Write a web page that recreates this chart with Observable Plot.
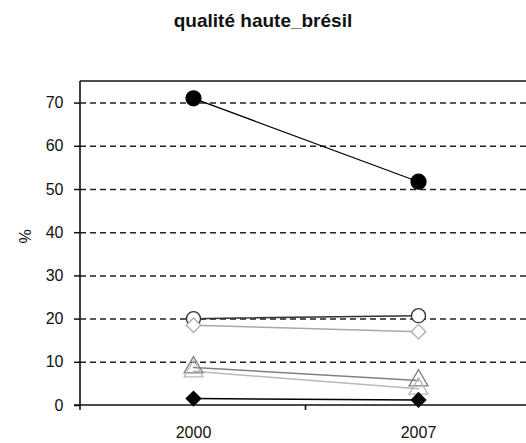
<!DOCTYPE html>
<html><head><meta charset="utf-8">
<script src="https://cdn.jsdelivr.net/npm/d3@7"></script>
<script src="https://cdn.jsdelivr.net/npm/@observablehq/plot@0.6"></script>
<style>
html,body{margin:0;background:#fff;font-family:"Liberation Sans",Arial,sans-serif;overflow:hidden}
#title{width:526px;height:44px;box-sizing:border-box;padding-top:11px;line-height:19px;font-size:19px;font-weight:bold;text-align:center;color:#111}
#chart svg{display:block}
</style>
</head><body>
<div id="title">qualité haute_brésil</div>
<div id="chart"></div>
<script>
// ---- data ----
const years = ["2000", "2007"];
const seriesNames = ["s1", "s2", "s3", "s4", "s5", "s6"];
const s1 = [71.1, 51.8];   // filled circle
const s2 = [20.1, 20.8];   // open circle
const s3 = [18.6, 17.1];   // open diamond
const s4 = [8.8, 5.8];     // open triangle (dark)
const s5 = [7.9, 3.9];     // open triangle (light)
const s6 = [1.6, 1.3];     // filled diamond
const yTicks = [0, 10, 20, 30, 40, 50, 60, 70];
const yMax = 75;

const seriesValues = [s1, s2, s3, s4, s5, s6];
const rows = seriesNames.flatMap((name, i) => years.map((yr, j) => ({series: name, year: yr, value: seriesValues[i][j]})));

// ---- styles ----
const styles = {
  s1: {symbol: "circle", fill: "#000", stroke: "#000", line: "#000", r: 7.5, lw: 1.2},
  s2: {symbol: "circle", fill: "#fff", stroke: "#333", line: "#333", r: 7, lw: 1.5},
  s3: {symbol: "diamond2", fill: "#fff", stroke: "#a8a8a8", line: "#a8a8a8", r: 6.5, lw: 1.5},
  s4: {symbol: "triangle", fill: "none", stroke: "#808080", line: "#808080", r: 7, lw: 1.5},
  s5: {symbol: "triangle", fill: "none", stroke: "#b8b8b8", line: "#b8b8b8", r: 7, lw: 1.5},
  s6: {symbol: "diamond2", fill: "#000", stroke: "#000", line: "#000", r: 6.5, lw: 1.5}
};

const axisLines = (index, scales, values, dims) => {
  const {x, y} = scales;
  const g = d3.create("svg:g").attr("fill", "none").attr("stroke", "#111").attr("stroke-width", 1.6);
  const x0 = dims.marginLeft;
  const y0 = y(0), yTop = y(yMax);
  g.append("line").attr("x1", x0).attr("x2", dims.width).attr("y1", yTop).attr("y2", yTop);
  g.append("line").attr("x1", x0).attr("x2", x0).attr("y1", yTop).attr("y2", y0 + 5);
  g.append("line").attr("x1", x0 - 6).attr("x2", dims.width).attr("y1", y0).attr("y2", y0);
  const mid = (x(years[0]) + x(years[1])) / 2;
  g.append("line").attr("x1", mid).attr("x2", mid).attr("y1", y0).attr("y2", y0 + 5);
  return g.node();
};

const marks = [
  Plot.ruleY(yTicks.filter(d => d > 0), {stroke: "#222", strokeWidth: 1.5, strokeDasharray: "6,4"}),
  Plot.axisY(yTicks, {tickSize: 6, tickPadding: 11, fontSize: 16, label: null, stroke: "#111", strokeWidth: 1.5, fill: "#111"}),
  Plot.axisX({tickSize: 0, tickPadding: 21, fontSize: 16, label: null, fill: "#111"}),
  Plot.text(["%"], {frameAnchor: "left", dx: -55, rotate: -90, fontSize: 16, fill: "#111"}),
];
for (const name of seriesNames) {
  const st = styles[name];
  const data = rows.filter(r => r.series === name);
  marks.push(Plot.line(data, {x: "year", y: "value", stroke: st.line, strokeWidth: st.lw}));
}
for (const name of seriesNames) {
  const st = styles[name];
  const data = rows.filter(r => r.series === name);
  marks.push(Plot.dot(data, {x: "year", y: "value", symbol: () => st.symbol, r: st.r, fill: st.fill, stroke: st.stroke, strokeWidth: 1.3}));
}
marks.push(axisLines);

const chart = Plot.plot({
  width: 526,
  height: 399,
  marginLeft: 80,
  marginRight: 0,
  marginTop: 37,
  marginBottom: 38,
  style: {fontFamily: "'Liberation Sans', Arial, sans-serif", background: "#fff", overflow: "hidden"},
  x: {type: "point", domain: years, range: [80, 530], padding: 0.5},
  y: {domain: [0, yMax], range: [361, 37]},
  symbol: {type: "identity"},
  marks
});
document.getElementById("chart").appendChild(chart);
</script>
</body></html>
